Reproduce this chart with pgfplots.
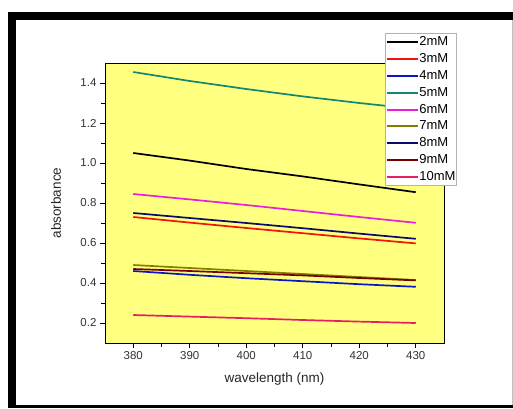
\documentclass[border=0pt]{standalone}
\usepackage{fontspec}
\setmainfont{Liberation Sans}
\usepackage{pgfplots}
\usepackage{pgfplotstable}
\pgfplotsset{compat=1.18}
\definecolor{bgyellow}{RGB}{255,255,128}
\definecolor{cA}{RGB}{0,0,0}
\definecolor{cB}{RGB}{240,20,10}
\definecolor{cC}{RGB}{10,20,200}
\definecolor{cD}{RGB}{20,135,115}
\definecolor{cE}{RGB}{235,30,220}
\definecolor{cF}{RGB}{128,128,0}
\definecolor{cG}{RGB}{10,10,110}
\definecolor{cH}{RGB}{120,0,0}
\definecolor{cI}{RGB}{230,30,100}
\pgfplotstableread{
wl   m2    m3    m4    m5    m6    m7    m8    m9    m10
380  1.050 0.730 0.460 1.455 0.845 0.490 0.750 0.470 0.240
390  1.012 0.702 0.441 1.410 0.818 0.475 0.725 0.460 0.232
400  0.970 0.675 0.424 1.370 0.790 0.460 0.700 0.449 0.224
410  0.933 0.649 0.409 1.333 0.760 0.445 0.674 0.438 0.215
420  0.893 0.623 0.394 1.300 0.730 0.430 0.647 0.425 0.207
430  0.854 0.598 0.381 1.270 0.701 0.415 0.621 0.413 0.200
}\datatable
\begin{document}%
\begin{tikzpicture}
\path[use as bounding box] (0pt,0pt) rectangle (513pt,408pt);
\fill[white] (0pt,0pt) rectangle (513pt,408pt);
\begin{axis}[
  at={(105pt,65pt)}, anchor=south west,
  scale only axis, width=339pt, height=280pt,
  xmin=375, xmax=435, ymin=0.1, ymax=1.5,
  axis background/.style={fill=bgyellow},
  axis line style={black, line width=1pt},
  xtick={380,390,400,410,420,430},
  ytick={0.2,0.4,0.6,0.8,1.0,1.2,1.4},
  minor x tick num=1, minor y tick num=1,
  xtick pos=bottom, ytick pos=left,
  tick align=outside,
  major tick length=5pt, minor tick length=4pt,
  every tick/.style={black, line width=1pt},
  yticklabel style={/pgf/number format/fixed, /pgf/number format/fixed zerofill, /pgf/number format/precision=1},
  /pgf/number format/assume math mode=true,
  tick label style={font=\fontsize{11.5}{13}\selectfont, text=black!80},
  xlabel={wavelength (nm)}, ylabel={absorbance},
  label style={font=\fontsize{13.5}{16}\selectfont, text=black!85},
  xlabel style={at={(axis description cs:0.5,-0.129)}, anchor=center},
  ylabel style={at={(axis description cs:-0.1445,0.5)}, anchor=center, rotate=0},
  legend style={at={(0.826,1.107)}, anchor=north west, draw=gray!60, fill=white,
    font=\fontsize{13}{15}\selectfont, row sep=3.8pt, inner xsep=0.5pt, inner ysep=2.5pt,
    nodes={inner sep=0.5pt, text height=9.5pt, text depth=2.5pt},
    line width=0.8pt},
  legend cell align=left,
  legend image code/.code={\draw[#1, line width=2pt] (0pt,0pt) -- (31pt,0pt);},
  every axis plot/.append style={line width=1.7pt},
]
\addplot[cA] table[x=wl,y=m2]{\datatable}; \addlegendentry{2mM}
\addplot[cB] table[x=wl,y=m3]{\datatable}; \addlegendentry{3mM}
\addplot[cC] table[x=wl,y=m4]{\datatable}; \addlegendentry{4mM}
\addplot[cD] table[x=wl,y=m5]{\datatable}; \addlegendentry{5mM}
\addplot[cE] table[x=wl,y=m6]{\datatable}; \addlegendentry{6mM}
\addplot[cF] table[x=wl,y=m7]{\datatable}; \addlegendentry{7mM}
\addplot[cG] table[x=wl,y=m8]{\datatable}; \addlegendentry{8mM}
\addplot[cH] table[x=wl,y=m9]{\datatable}; \addlegendentry{9mM}
\addplot[cI] table[x=wl,y=m10]{\datatable}; \addlegendentry{10mM}
\end{axis}
\fill[black] (8pt,0pt) rectangle (16pt,396pt);
\fill[black] (8pt,388pt) rectangle (513pt,396pt);
\fill[black] (8pt,0pt) rectangle (513pt,3pt);
\draw[gray!50, line width=0.6pt] (511.8pt,3pt) -- (511.8pt,388pt);
\end{tikzpicture}%
\end{document}
